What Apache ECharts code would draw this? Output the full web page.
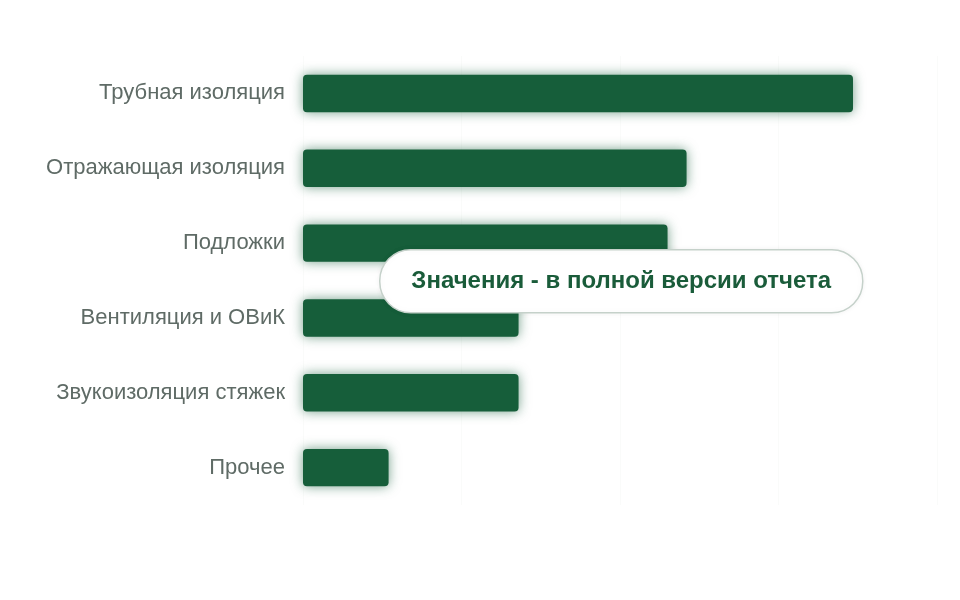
<!DOCTYPE html>
<html>
<head>
<meta charset="utf-8">
<script src="https://cdn.jsdelivr.net/npm/echarts@6/dist/echarts.min.js"></script>
<style>
html,body{margin:0;padding:0;background:#fff;}
#chart{width:960px;height:600px;}
</style>
</head>
<body>
<div id="chart"></div>
<script>
const categories = ['Трубная изоляция','Отражающая изоляция','Подложки','Вентиляция и ОВиК','Звукоизоляция стяжек','Прочее'];
const values = [34.7, 24.2, 23.0, 13.6, 13.6, 5.4];
const overlayText = 'Значения - в полной версии отчета';

const chart = echarts.init(document.getElementById('chart'), null, {renderer:'canvas'});
chart.setOption({
  animation:false,
  grid:{left:303,right:23,top:56,bottom:95,containLabel:false},
  xAxis:{
    type:'value',min:0,max:40,interval:10,
    axisLabel:{show:false},axisLine:{show:false},axisTick:{show:false},
    splitLine:{show:true,lineStyle:{color:'#fafbfa',width:1}}
  },
  yAxis:{
    type:'category',inverse:true,data:categories,
    axisLine:{show:false},axisTick:{show:false},
    axisLabel:{margin:18,fontSize:22,color:'#5f6b66',padding:[4,0,0,0],fontFamily:'Liberation Sans, Arial, sans-serif'}
  },
  series:[{
    type:'bar',data:values,barWidth:'50%',
    itemStyle:{color:'#165e3a',borderRadius:4,shadowBlur:12,shadowColor:'rgba(22,94,58,0.6)'}
  }],
  graphic:[{
    type:'group',left:379,top:249,z:100,
    children:[
      {type:'rect',z:100,shape:{x:0,y:0,width:483,height:63,r:31},
       style:{fill:'#ffffff',stroke:'#c5d1ca',lineWidth:1.5,shadowBlur:6,shadowColor:'rgba(0,0,0,0.06)'}},
      {type:'text',z:101,x:241.5,y:31.5,
       style:{text:overlayText,fill:'#1a5c3a',font:'bold 24px "Liberation Sans", Arial, sans-serif',align:'center',verticalAlign:'middle'}}
    ]
  }]
});
</script>
</body>
</html>
